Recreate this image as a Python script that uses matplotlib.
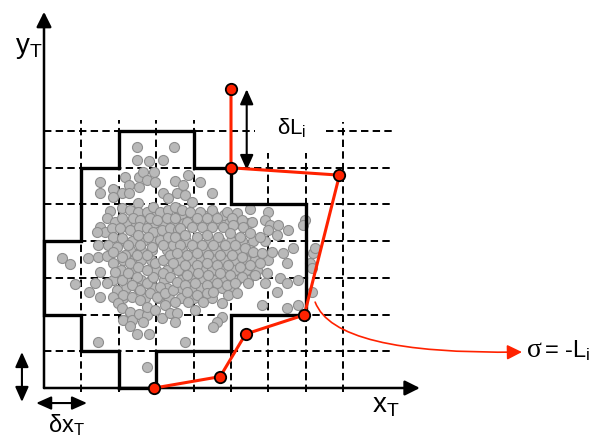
import matplotlib
matplotlib.use("Agg")
import matplotlib.pyplot as plt
from matplotlib.path import Path
from matplotlib.patches import FancyArrowPatch

plt.rcParams['font.family'] = ['Liberation Sans', 'DejaVu Sans']
plt.rcParams['mathtext.fontset'] = 'custom'
plt.rcParams['mathtext.rm'] = 'Liberation Sans'
plt.rcParams['mathtext.it'] = 'Liberation Sans'
plt.rcParams['mathtext.default'] = 'regular'

# ---------------- data (grid units: one cell = 1) ----------------
grid_cols = [1, 2, 3, 4, 5, 6, 7, 8]
grid_col_top = [7.3, 7.3, 7.3, 7.3, 7.3, 6.4, 6.4, 7.25]
grid_rows = [1, 2, 3, 4, 5, 6, 7]

# staircase boundary of occupied cells
cont_x = [2, 3, 3, 5, 5, 7, 7, 5, 5, 4, 4, 2, 2, 1, 1, 0, 0, 1, 1, 2, 2]
cont_y = [0, 0, 1, 1, 2, 2, 5, 5, 6, 6, 7, 7, 6, 6, 4, 4, 2, 2, 1, 1, 0]

# red polygon vertices
red_x = [5.00, 5.00, 7.90, 6.96, 5.39, 4.71, 2.95]
red_y = [8.14, 6.00, 5.80, 1.99, 1.47, 0.31, 0.00]

# particle cloud (outer and mid particles)
dot_x = [2.49, 3.48, 2.49, 2.82, 3.17, 1.50, 1.50, 1.85, 2.17, 2.28,
         2.55, 2.66, 2.75, 2.94, 2.97, 2.55, 2.08, 2.28, 1.85, 3.19,
         3.32, 3.50, 3.55, 1.76, 2.08, 2.30, 2.52, 2.52, 2.75, 2.92,
         3.10, 3.32, 3.55, 1.68, 1.90, 2.08, 2.39, 2.57, 2.83, 3.01,
         3.28, 3.50, 1.50, 1.63, 1.81, 2.03, 2.30, 2.55, 2.75, 2.92,
         3.15, 3.37, 3.59, 1.41, 1.85, 2.08, 2.52, 2.79, 3.10, 3.32,
         1.45, 1.72, 1.94, 2.25, 2.57, 2.88, 3.19, 3.46, 0.47, 1.45,
         1.18, 2.17, 2.48, 2.75, 0.70, 1.68, 1.85, 1.50, 0.83, 1.36,
         1.68, 1.21, 1.50, 1.85, 2.08, 1.90, 2.08, 1.94, 1.85, 2.12,
         1.99, 2.08, 2.30, 2.12, 2.35, 2.30, 2.55, 2.75, 2.66, 2.49,
         2.82, 1.45, 2.30, 2.52, 2.25, 2.48, 2.35, 2.57, 2.35, 2.57,
         2.75, 2.83, 2.75, 2.92, 2.75, 2.97, 3.19, 3.37, 3.19, 3.10,
         3.01, 3.24, 3.46, 3.50, 3.24, 3.15, 2.97, 3.37, 3.55, 3.50,
         3.37, 3.59, 3.55, 3.86, 4.17, 3.72, 3.77, 4.48, 3.95, 3.50,
         3.68, 3.90, 4.17, 4.48, 4.89, 5.15, 5.51, 6.00, 3.82, 4.08,
         4.35, 4.62, 5.02, 5.29, 5.55, 5.91, 3.64, 3.95, 4.22, 4.48,
         4.79, 5.06, 5.33, 6.04, 6.27, 6.53, 6.00, 6.98, 6.93, 3.50,
         3.77, 4.08, 4.35, 4.66, 4.97, 5.24, 5.51, 5.78, 6.22, 3.64,
         3.95, 4.22, 4.53, 4.84, 5.11, 5.37, 5.60, 5.82, 6.09, 6.40,
         6.67, 3.55, 3.82, 4.08, 4.39, 4.71, 5.02, 5.29, 6.49, 7.20,
         7.11, 3.46, 3.77, 4.08, 4.35, 4.62, 4.93, 5.24, 5.51, 5.78,
         3.82, 4.13, 4.39, 4.71, 4.97, 5.29, 5.64, 5.96, 6.31, 6.49,
         6.80, 3.77, 4.04, 4.35, 4.62, 4.89, 5.11, 5.46, 5.91, 6.22,
         3.82, 4.08, 4.35, 4.53, 4.93, 5.15, 3.86, 4.26, 4.75, 4.04,
         4.75, 4.62, 4.53, 5.82, 6.49, 6.80, 3.77, 7.25, 7.16, 7.16,
         2.75]
dot_y = [6.56, 6.56, 6.21, 6.19, 6.21, 5.62, 5.31, 5.41, 5.76, 5.53,
         5.76, 5.89, 5.67, 5.89, 5.62, 5.49, 5.31, 5.31, 5.21, 5.31,
         5.17, 5.65, 5.31, 4.83, 4.90, 4.85, 5.03, 4.80, 4.80, 4.94,
         4.80, 4.85, 4.90, 4.62, 4.53, 4.62, 4.62, 4.58, 4.62, 4.58,
         4.62, 4.62, 4.40, 4.26, 4.35, 4.35, 4.31, 4.40, 4.35, 4.26,
         4.31, 4.35, 4.31, 4.26, 4.12, 4.08, 4.17, 4.12, 4.03, 4.12,
         3.90, 3.90, 3.85, 3.90, 3.90, 3.85, 3.90, 3.90, 3.53, 3.56,
         3.53, 3.62, 3.62, 3.62, 3.38, 3.60, 3.71, 3.17, 2.83, 2.85,
         2.85, 2.62, 2.49, 3.40, 3.58, 3.17, 2.94, 2.67, 2.49, 2.53,
         2.31, 2.17, 2.08, 1.85, 1.85, 1.69, 2.02, 1.99, 1.81, 1.47,
         1.47, 1.26, 3.40, 3.31, 3.13, 3.03, 2.81, 2.67, 2.49, 2.40,
         2.22, 2.58, 2.85, 3.03, 3.22, 3.40, 3.49, 3.62, 3.13, 2.76,
         2.49, 2.58, 2.67, 2.35, 2.26, 1.90, 2.13, 2.04, 2.04, 1.81,
         3.03, 3.22, 2.90, 5.80, 5.62, 5.53, 5.26, 5.31, 5.08, 4.94,
         4.85, 4.80, 4.80, 4.85, 4.80, 4.76, 4.87, 4.80, 4.53, 4.62,
         4.62, 4.62, 4.62, 4.58, 4.53, 4.58, 4.35, 4.40, 4.40, 4.40,
         4.40, 4.44, 4.40, 4.44, 4.44, 4.31, 4.31, 4.58, 4.44, 4.12,
         4.17, 4.12, 4.17, 4.12, 4.22, 4.12, 4.22, 4.12, 4.17, 3.90,
         3.90, 3.90, 3.90, 3.90, 3.90, 3.81, 3.71, 3.67, 3.71, 3.67,
         3.81, 3.67, 3.62, 3.67, 3.62, 3.62, 3.62, 3.58, 3.40, 3.67,
         3.40, 3.40, 3.35, 3.35, 3.40, 3.35, 3.35, 3.31, 3.35, 3.40,
         3.08, 3.13, 3.08, 3.13, 3.08, 3.03, 3.08, 3.13, 2.99, 2.85,
         2.94, 2.81, 2.85, 2.81, 2.85, 2.81, 2.85, 2.85, 2.85, 2.62,
         2.62, 2.53, 2.58, 2.62, 2.53, 2.58, 2.35, 2.35, 2.31, 2.13,
         1.94, 1.81, 1.67, 2.26, 2.17, 2.26, 1.26, 3.81, 3.26, 2.62,
         0.58]

# particles of the packed core (drawn underneath)
core_x = [2.40, 2.70, 3.00, 3.30, 3.65, 3.95, 4.25, 4.55, 4.80,
          2.20, 2.45, 2.70, 2.95, 3.20, 3.45, 3.75, 4.05, 4.35, 4.65,
          4.95, 5.20, 5.45,
          2.00, 2.35, 2.65, 2.95, 3.25, 3.55, 3.80, 4.10, 4.40, 4.70,
          5.00, 5.30, 5.60, 5.90,
          2.30, 2.60, 2.90, 3.30, 3.70, 4.00, 4.30, 4.60, 4.90, 5.20,
          5.50,
          2.10, 2.40, 2.60, 2.85, 3.65, 3.95, 4.20, 4.50, 4.80, 5.10,
          5.40, 5.65, 6.00,
          2.05, 2.40, 3.00, 3.30, 3.95, 4.25, 4.50, 4.80, 5.10, 5.40,
          5.70,
          1.85, 2.20, 2.60, 2.85, 3.20, 3.65, 3.95, 4.25, 4.55, 4.85,
          5.15, 5.45,
          2.20, 2.50, 2.95, 3.30, 3.65, 3.95, 4.20, 4.50, 4.75, 5.05,
          2.10, 2.70, 3.05, 3.35, 3.65, 4.00, 4.50]
core_y = [4.72, 4.72, 4.72, 4.72, 4.72, 4.72, 4.72, 4.72, 4.72,
          4.49, 4.49, 4.49, 4.49, 4.49, 4.49, 4.49, 4.49, 4.49, 4.49,
          4.49, 4.49, 4.49,
          4.00, 4.00, 4.00, 4.00, 4.00, 4.00, 4.00, 4.00, 4.00, 4.00,
          4.00, 4.00, 4.00, 4.00,
          3.76, 3.76, 3.76, 3.76, 3.76, 3.76, 3.76, 3.76, 3.76, 3.76,
          3.76,
          3.50, 3.50, 3.50, 3.50, 3.50, 3.50, 3.50, 3.50, 3.50, 3.50,
          3.50, 3.50, 3.50,
          3.22, 3.22, 3.22, 3.22, 3.22, 3.22, 3.22, 3.22, 3.22, 3.22,
          3.22,
          2.95, 2.95, 2.95, 2.95, 2.95, 2.95, 2.95, 2.95, 2.95, 2.95,
          2.95, 2.95,
          2.72, 2.72, 2.72, 2.72, 2.72, 2.72, 2.72, 2.72, 2.72, 2.72,
          2.45, 2.45, 2.45, 2.45, 2.45, 2.45, 2.45]

RED = '#ff2200'

# ---------------- figure ----------------
fig = plt.figure(figsize=(6.02, 4.40), dpi=100)
ax = fig.add_axes([0, 0, 1, 1])
ax.set_xlim(-44 / 37.4, (602 - 44) / 37.4)
ax.set_ylim(-(440 - 388) / 36.7, 388 / 36.7)
ax.axis('off')

dash = (0, (3.8, 2.2))
for c, top in zip(grid_cols, grid_col_top):
    ax.plot([c, c], [-0.1, top], color='k', lw=1.4, ls=dash, zorder=1)
for r in grid_rows:
    if r == 7:
        ax.plot([0, 5.64], [r, r], color='k', lw=1.4, ls=dash, zorder=1)
        ax.plot([7.54, 9.33], [r, r], color='k', lw=1.4, ls=dash, zorder=1)
    else:
        ax.plot([0, 9.33], [r, r], color='k', lw=1.4, ls=dash, zorder=1)

ax.scatter(core_x, core_y, s=52, facecolor='#b9b9b9', edgecolor='#8e8e8e',
           linewidth=0.8, zorder=2)
ax.scatter(dot_x, dot_y, s=52, facecolor='#b9b9b9', edgecolor='#8e8e8e',
           linewidth=0.8, zorder=2.1)

ax.plot(cont_x, cont_y, color='k', lw=2.4, solid_joinstyle='miter', zorder=3)

# axes with arrows
head = '-|>,head_length=0.9,head_width=0.45'
ax.annotate('', xy=(10.05, 0), xytext=(0, 0),
            arrowprops=dict(arrowstyle=head, lw=1.8, color='k', shrinkA=0,
                            shrinkB=0, mutation_scale=10), zorder=3)
ax.annotate('', xy=(0, 10.25), xytext=(0, 0),
            arrowprops=dict(arrowstyle=head, lw=1.8, color='k', shrinkA=0,
                            shrinkB=0, mutation_scale=10), zorder=3)

dhead = '<|-|>,head_length=0.9,head_width=0.4'
ax.annotate('', xy=(5.42, 8.14), xytext=(5.42, 5.94),
            arrowprops=dict(arrowstyle=dhead, lw=1.5, color='k', shrinkA=0,
                            shrinkB=0, mutation_scale=10), zorder=4)
ax.annotate('', xy=(-0.59, 0.98), xytext=(-0.59, -0.38),
            arrowprops=dict(arrowstyle=dhead, lw=1.5, color='k', shrinkA=0,
                            shrinkB=0, mutation_scale=10))
ax.annotate('', xy=(-0.21, -0.41), xytext=(1.15, -0.41),
            arrowprops=dict(arrowstyle=dhead, lw=1.5, color='k', shrinkA=0,
                            shrinkB=0, mutation_scale=10))

# red polygon
ax.plot(red_x, red_y, color=RED, lw=2.2, zorder=5)
ax.plot(red_x, red_y, ls='none', marker='o', ms=8.2, mfc=RED, mec='k',
        mew=1.3, zorder=6)

# curved red pointer
curve = Path([(7.25, 2.34), (7.78, 0.90), (12.78, 0.98)],
             [Path.MOVETO, Path.CURVE3, Path.CURVE3])
ax.add_patch(FancyArrowPatch(path=curve, arrowstyle=head, mutation_scale=10,
                             lw=1.2, color=RED, zorder=5))

# labels
ax.text(-0.78, 9.13, '$y_T$', fontsize=20, ha='left', va='baseline')
ax.text(8.77, -0.68, '$x_T$', fontsize=20, ha='left', va='baseline')
ax.text(6.23, 6.92, 'δL$_i$', fontsize=16, ha='left', va='baseline')
ax.text(0.11, -1.20, 'δx$_T$', fontsize=17, ha='left', va='baseline')
ax.text(12.91, 0.84, 'σ', fontsize=20, family='Liberation Serif',
        ha='left', va='baseline')
ax.text(13.36, 0.84, '= -L$_i$', fontsize=17, ha='left', va='baseline')

fig.savefig('out.png', dpi=100)
